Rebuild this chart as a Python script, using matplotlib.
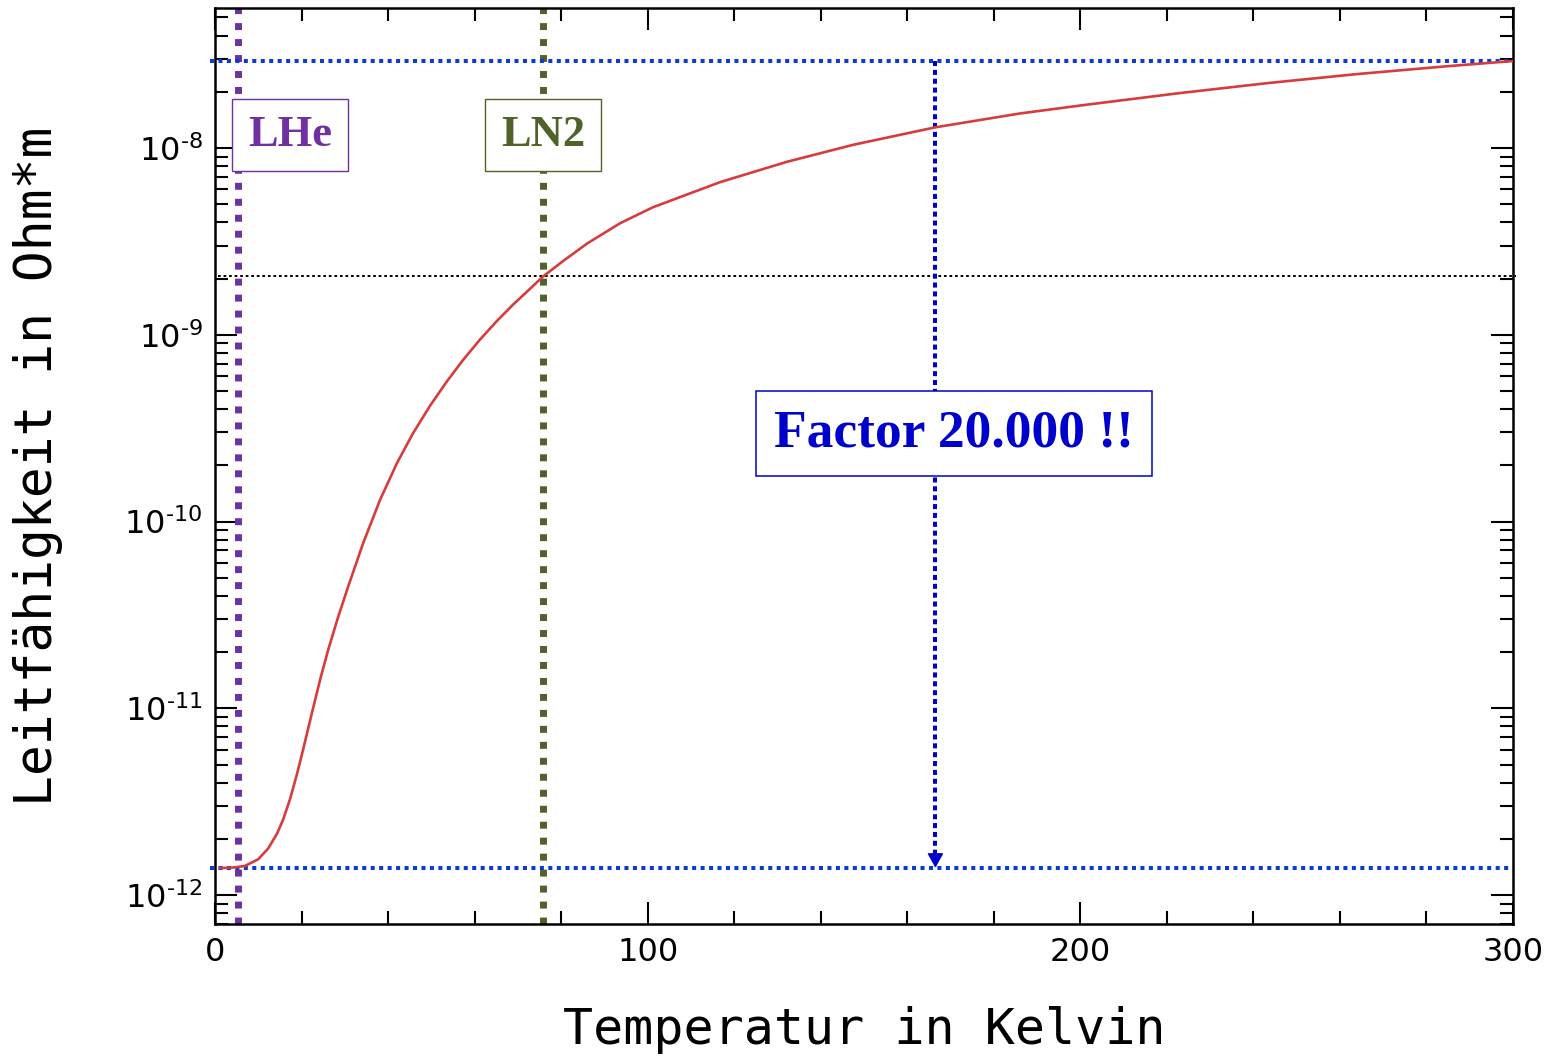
import numpy as np
from matplotlib import pyplot as plt
from matplotlib.ticker import MultipleLocator, LogLocator, FuncFormatter, NullFormatter

# Werte: Temperatur in K, spez. Widerstand in Ohm*m
temp = [1.16, 2.31, 4.62, 6.93, 9.94, 12.25, 14.33, 15.72, 17.33, 18.95,
        20.34, 22.42, 24.27, 26.12, 28.43, 30.74, 34.20, 38.13, 42.06, 45.76,
        49.69, 53.62, 57.31, 61.24, 65.17, 68.87, 72.80, 75.80, 80.43, 85.97,
        93.60, 101.2, 116.7, 132.2, 147.5, 166.4, 186.0, 200.4, 222.6, 243.1,
        263.7, 284.3, 300.0]
rho = [1.398e-12, 1.398e-12, 1.407e-12, 1.433e-12, 1.553e-12, 1.772e-12,
       2.134e-12, 2.530e-12, 3.265e-12, 4.456e-12, 5.994e-12, 9.51e-12,
       1.418e-11, 2.046e-11, 3.074e-11, 4.467e-11, 7.63e-11, 1.305e-10,
       2.059e-10, 2.970e-10, 4.168e-10, 5.643e-10, 7.32e-10, 9.426e-10,
       1.187e-9, 1.449e-9, 1.763e-9, 2.05e-9, 2.480e-9, 3.077e-9, 3.953e-9,
       4.814e-9, 6.56e-9, 8.436e-9, 1.040e-8, 1.289e-8, 1.530e-8, 1.693e-8,
       1.963e-8, 2.223e-8, 2.484e-8, 2.734e-8, 2.922e-8]

T_LHe = 5.4
T_LN2 = 75.7
T_pfeil = 166.5
rho_300K = 2.92e-8
rho_LN2 = 2.07e-9
rho_rest = 1.40e-12

plt.rcParams['font.family'] = ['DejaVu Sans']

fig = plt.figure(figsize=(15.55, 10.6), dpi=100)
ax = fig.add_axes([0.1383, 0.1283, 0.8347, 0.8642])

ax.set_xlim(0, 300)
ax.set_yscale('log')
ax.set_ylim(7.0e-13, 5.62e-8)

# Kurve
ax.plot(temp, rho, color='#d63c3c', lw=1.9, zorder=4)

# horizontale Hilfslinien
ax.plot([-1.2, 300], [rho_300K, rho_300K], color='#0a3bd4', lw=2.9,
        ls=(0, (1.0, 1.1)), clip_on=False, zorder=3)
ax.plot([-1.2, 300], [rho_rest, rho_rest], color='#0a3bd4', lw=2.9,
        ls=(0, (1.0, 1.1)), clip_on=False, zorder=3)
ax.plot([0.7, 300.6], [rho_LN2, rho_LN2], color='black', lw=1.4,
        ls=(0, (1.4, 1.45)), clip_on=False, zorder=3)

# LHe / LN2
ax.axvline(T_LHe, color='#7030A0', lw=5.0, ls=(0, (1.0, 1.3)), zorder=2)
ax.axvline(T_LN2, color='#4F6228', lw=5.0, ls=(0, (1.0, 1.3)), zorder=2)

# Pfeil
ax.plot([T_pfeil, T_pfeil], [rho_300K, rho_rest * 1.12], color='#0000cc', lw=2.9,
        ls=(0, (1.25, 0.95)), zorder=3)
ax.annotate('', xy=(T_pfeil, rho_rest), xytext=(0, 10), textcoords='offset points',
            arrowprops=dict(arrowstyle='-|>,head_length=0.9,head_width=0.5',
                            color='#0000cc', lw=1, shrinkA=0, shrinkB=0), zorder=3)

# Beschriftungen
ax.text(17.3, 1.17e-8, 'LHe', color='#7030A0', fontsize=32, fontweight='bold',
        family='Liberation Serif', ha='center', va='center', zorder=5,
        bbox=dict(boxstyle='square,pad=0.36', fc='white', ec='#7030A0', lw=1))
ax.text(75.8, 1.18e-8, 'LN2', color='#4F6228', fontsize=32, fontweight='bold',
        family='Liberation Serif', ha='center', va='center', zorder=5,
        bbox=dict(boxstyle='square,pad=0.36', fc='white', ec='#4F6228', lw=1))
ax.text(170.8, 2.96e-10, 'Factor 20.000 !!', color='#0000cc', fontsize=38.5,
        fontweight='bold', family='Liberation Serif', ha='center', va='center', zorder=5,
        bbox=dict(boxstyle='square,pad=0.34', fc='white', ec='#0000cc', lw=1.1))

# Achsen
ax.xaxis.set_major_locator(MultipleLocator(100))
ax.xaxis.set_minor_locator(MultipleLocator(20))
ax.yaxis.set_major_locator(LogLocator(base=10, numticks=20))
ax.yaxis.set_minor_locator(LogLocator(base=10, subs=np.arange(2, 10), numticks=20))
ax.yaxis.set_minor_formatter(NullFormatter())
ax.yaxis.set_major_formatter(FuncFormatter(
    lambda v, p: r'$10^{\text{-}%d}$' % round(-np.log10(v))))

ax.tick_params(which='both', direction='in', top=True, right=True, width=1.5)
ax.tick_params(which='major', length=16, pad=9, labelsize=23)
ax.tick_params(which='minor', length=9.4)
for s in ax.spines.values():
    s.set_linewidth(1.8)

ax.set_xlabel('Temperatur in Kelvin', fontfamily='DejaVu Sans Mono', fontsize=36,
              labelpad=28)
ax.set_ylabel('Leitfähigkeit in Ohm*m', fontfamily='DejaVu Sans Mono', fontsize=37,
              labelpad=44)

fig.savefig('out.png', dpi=100)
